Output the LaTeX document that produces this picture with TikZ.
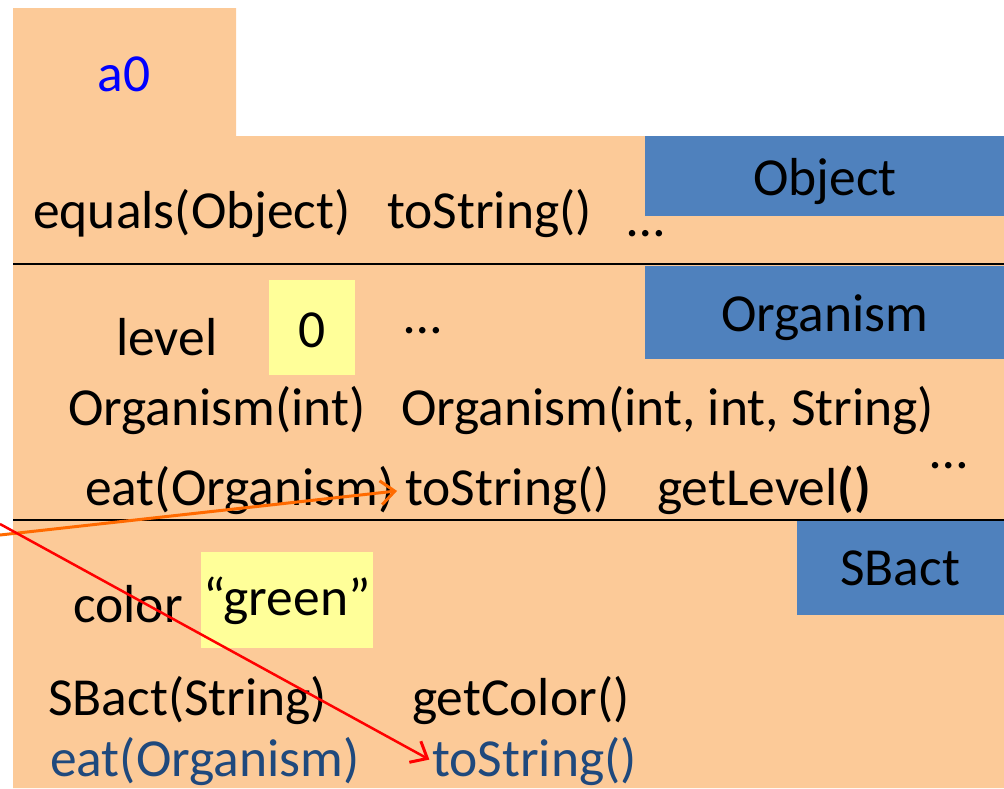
\documentclass[tikz,border=0pt]{standalone}
\usepackage{fontspec}
\setmainfont{Carlito}
\usetikzlibrary{arrows.meta}
\definecolor{objfill}{HTML}{FCCA98}
\definecolor{clsblue}{HTML}{4F81BD}
\definecolor{valfill}{HTML}{FFFF99}
\definecolor{ovrblue}{HTML}{1F497D}
\definecolor{tabblue}{HTML}{0000FF}
\definecolor{ptrorange}{HTML}{FF6A00}
\tikzset{
  txt/.style={anchor=base west, inner sep=0pt, font=\fontsize{53.5}{60}\selectfont},
  ctxt/.style={anchor=base, inner sep=0pt, font=\fontsize{53.5}{60}\selectfont},
  clsbox/.style={fill=clsblue, draw=none},
  valbox/.style={fill=valfill, draw=none},
  divider/.style={line width=2pt, black},
  ptr/.style={-{Straight Barb[length=14pt,width=24pt,line width=3pt]}, line width=3pt},
}
\begin{document}
\begin{tikzpicture}[x=1pt,y=-1pt]
\useasboundingbox (0,0) rectangle (1004,788);

% object body with name tab
\fill[objfill] (13,8) -- (236,8) -- (236,136) -- (1004,136) -- (1004,788) -- (13,788) -- cycle;
\node[ctxt, text=tabblue] (name) at (124,91) {a0};

% partition dividers
\draw[divider] (13,264) -- (1004,264);
\draw[divider] (13,520) -- (1004,520);

% Object partition
\fill[clsbox] (645,136) rectangle (1004,216);
\node[ctxt] (objcls) at (825,195) {Object};
\node[txt] (equals) at (33,228) {equals(Object)};
\node[txt] (tostr0) at (387,228) {toString()};
\node[txt] (dots0) at (627,236) {…};

% Organism partition
\fill[clsbox] (645,266) rectangle (1004,359);
\node[ctxt] (orgcls) at (825,331) {Organism};
\node[txt] (level) at (116,355) {level};
\fill[valbox] (269,280) rectangle (355,375);
\node[ctxt] (levelval) at (312,347) {0};
\node[txt] (dots1) at (404,333) {…};
\node[txt] (orgc1) at (68,425) {Organism(int)};
\node[txt] (orgc2) at (401,425) {Organism(int, int, String)};
\node[txt] (eat1) at (85,505) {eat(Organism)};
\node[txt] (tostr1) at (405,505) {toString()};
\node[txt] (getlvl) at (657,505) {getLevel\textbf{()}};
\node[txt] (dots2) at (930,468) {…};

% SBact partition
\fill[clsbox] (797,521) rectangle (1004,615);
\node[ctxt] (sbcls) at (900,585) {SBact};
\node[txt] (color) at (73,622) {color};
\fill[valbox] (201,552) rectangle (373,648);
\node[ctxt] (colorval) at (287,615) {“green”};
\node[txt] (sbc) at (48,715) {SBact(String)};
\node[txt] (getcol) at (412,715) {getColor()};
\node[txt, text=ovrblue] (eat2) at (50,776) {eat(Organism)};
\node[txt, text=ovrblue] (tostr2) at (432,776) {toString()};

% method pointers entering from the left
\coordinate (srcO) at (0,535);
\coordinate (srcR) at (0,524);
\draw[ptr, ptrorange, shorten >=8pt] (srcO) -- (tostr1.west);
\draw[ptr, red, line width=2.5pt, shorten >=3pt] (srcR) -- (tostr2.west);
\end{tikzpicture}
\end{document}
